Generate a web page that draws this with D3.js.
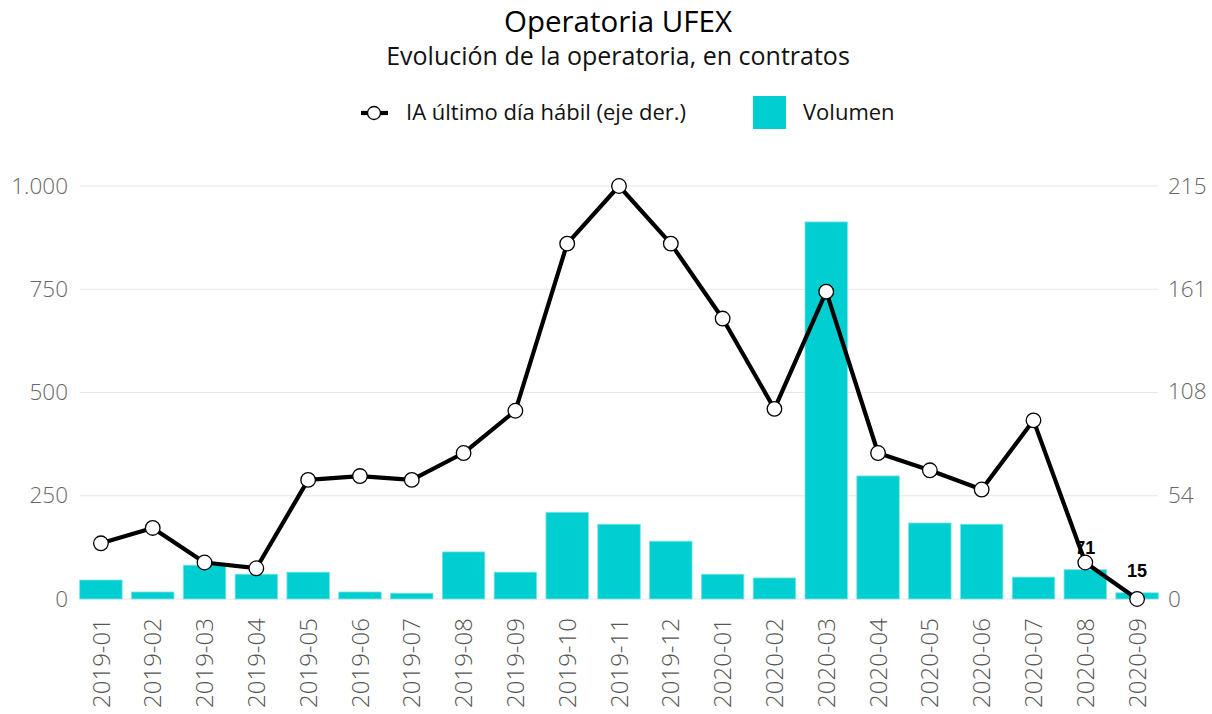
<!DOCTYPE html>
<html><head><meta charset="utf-8">
<script src="https://cdn.jsdelivr.net/npm/d3@7"></script>
<style>
body{margin:0;background:#fff;}
svg{font-family:"Open Sans","Noto Sans",sans-serif;}
</style></head>
<body>
<svg id="c" width="1212" height="714"></svg>
<script>
const months = ["2019-01","2019-02","2019-03","2019-04","2019-05","2019-06","2019-07","2019-08","2019-09","2019-10","2019-11","2019-12","2020-01","2020-02","2020-03","2020-04","2020-05","2020-06","2020-07","2020-08","2020-09"];
const volumen = [46,17,82,60,65,17,14,114,65,210,181,140,60,51,913,298,184,181,53,71,15];
const ia = [29,37,19,16,62,64,62,76,98,185,215,185,146,99,160,76,67,57,93,19,0];
const leftTicks = [0,250,500,750,1000];
const rightTicks = [0,54,108,161,215];
const labelledMonths = ["2020-08","2020-09"];

const svg = d3.select("#c");
const loc = d3.formatLocale({decimal:",",thousands:".",grouping:[3],currency:["","€"]});
const fmt = loc.format(",d");

const x = d3.scaleBand().domain(months).range([75,1163]).paddingInner(0.18).paddingOuter(0.09);
const yL = d3.scaleLinear().domain([0,1000]).range([599,186]);
const yR = d3.scaleLinear().domain([0,215]).range([599,186]);

// gridlines
svg.append("g").selectAll("line").data(leftTicks).join("line")
  .attr("x1",80).attr("x2",1158)
  .attr("y1",d=>yL(d)).attr("y2",d=>yL(d))
  .attr("stroke","#e6e6e6").attr("stroke-width",1);

// left axis
const gL = svg.append("g").attr("transform","translate(70,0)")
  .call(d3.axisLeft(yL).tickValues(leftTicks).tickFormat(fmt).tickSize(0).tickPadding(2));
gL.select(".domain").remove();
gL.selectAll("text").attr("font-size",22.5).attr("fill","#666").attr("font-family","'Open Sans',sans-serif").attr("font-weight",300);

// right axis
const gR = svg.append("g").attr("transform","translate(1166,0)")
  .call(d3.axisRight(yR).tickValues(rightTicks).tickSize(0).tickPadding(2));
gR.select(".domain").remove();
gR.selectAll("text").attr("font-size",22.5).attr("fill","#666").attr("font-family","'Open Sans',sans-serif").attr("font-weight",300);

// bars
svg.append("g").selectAll("rect").data(months).join("rect")
  .attr("x",d=>x(d)).attr("width",x.bandwidth())
  .attr("y",(d,i)=>yL(volumen[i])).attr("height",(d,i)=>yL(0)-yL(volumen[i]))
  .attr("fill","#00CED1").attr("stroke","#7fe3e5").attr("stroke-width",0.8);

// x axis labels
const gX = svg.append("g").attr("transform","translate(0,612)")
  .call(d3.axisBottom(x).tickSize(0).tickPadding(0));
gX.select(".domain").remove();
gX.selectAll("text")
  .attr("transform","rotate(-90)")
  .attr("text-anchor","end").attr("x",-6).attr("y",0).attr("dy","0.36em")
  .attr("font-size",24).attr("fill","#555").attr("font-family","'Open Sans',sans-serif").attr("font-weight",300);

// line
const line = d3.line().x((d,i)=>x(months[i])+x.bandwidth()/2).y(d=>yR(d));
svg.append("path").datum(ia).attr("d",line).attr("fill","none")
  .attr("stroke","#000").attr("stroke-width",4.2).attr("stroke-linejoin","round");
svg.append("g").selectAll("circle").data(ia).join("circle")
  .attr("cx",(d,i)=>x(months[i])+x.bandwidth()/2).attr("cy",d=>yR(d)).attr("r",7.3)
  .attr("fill","#fff").attr("stroke","#000").attr("stroke-width",1.3);

// data labels
svg.append("g").selectAll("text").data(labelledMonths).join("text")
  .attr("x",d=>x(d)+x.bandwidth()/2)
  .attr("y",d=>yL(volumen[months.indexOf(d)])-16)
  .attr("text-anchor","middle").attr("font-family","Arial,'Liberation Sans',sans-serif")
  .attr("font-weight","bold").attr("font-size",18).attr("fill","#000")
  .text(d=>volumen[months.indexOf(d)]);

// title
svg.append("text").attr("x",618).attr("y",32).attr("text-anchor","middle")
  .attr("font-size",29.5).attr("fill","#000").text("Operatoria UFEX");
svg.append("text").attr("x",618).attr("y",65).attr("text-anchor","middle")
  .attr("font-size",25).attr("fill","#111").text("Evolución de la operatoria, en contratos");

// legend
const lg = svg.append("g");
lg.append("line").attr("x1",361).attr("x2",388).attr("y1",113).attr("y2",113).attr("stroke","#000").attr("stroke-width",4.2);
lg.append("circle").attr("cx",374).attr("cy",113).attr("r",6.5).attr("fill","#fff").attr("stroke","#000").attr("stroke-width",1.3);
lg.append("text").attr("x",406).attr("y",120).attr("font-size",22).attr("fill","#111").text("IA último día hábil (eje der.)");
lg.append("rect").attr("x",753).attr("y",96).attr("width",33).attr("height",33).attr("fill","#00CED1");
lg.append("text").attr("x",803).attr("y",120).attr("font-size",22).attr("fill","#111").text("Volumen");
</script>
</body></html>
